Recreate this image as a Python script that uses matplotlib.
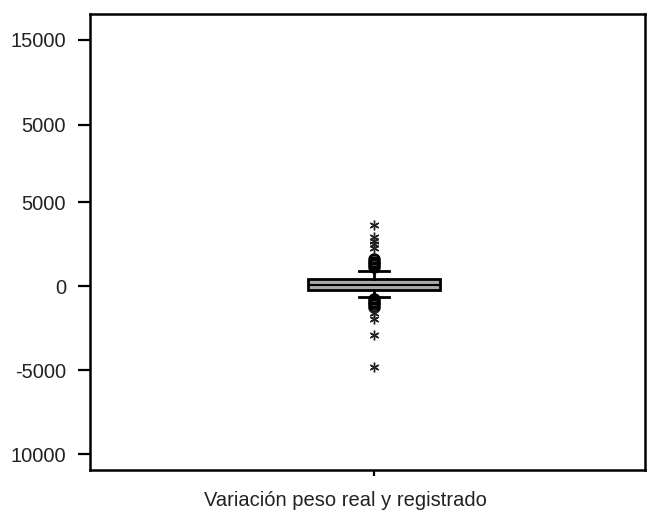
import matplotlib.pyplot as plt
import numpy as np

plt.rcParams['font.family'] = ['Liberation Sans', 'DejaVu Sans']

# estadísticos del boxplot
mediana = 60
q1 = -240
q3 = 420
bigote_inf = -650
bigote_sup = 890

# atípicos (círculos) y extremos (estrellas)
atipicos = np.array([1150, 1300, 1450, 1600, -800, -950, -1100, -1250])
extremos = np.array([3630, 2920, 2680, 2480, 2260, -1600, -1960, -2920, -4820])

tick_vals = [-10000, -5000, 0, 5000, 9600, 14650]
tick_labels = ['10000', '-5000', '0', '5000', '5000', '15000']

fig = plt.figure(figsize=(6.51, 5.14), dpi=100)
ax = fig.add_axes([0.138, 0.0856, 0.853, 0.8872])

stats = [{'med': mediana, 'q1': q1, 'q3': q3, 'whislo': bigote_inf,
          'whishi': bigote_sup, 'fliers': []}]
ax.bxp(stats, positions=[1], widths=0.238, patch_artist=True,
       showfliers=False, capwidths=0.055,
       boxprops=dict(facecolor='#a8a8a8', edgecolor='black', linewidth=2),
       medianprops=dict(color='black', linewidth=1.5),
       whiskerprops=dict(color='black', linewidth=2),
       capprops=dict(color='black', linewidth=2))

ax.plot(np.ones(len(atipicos)), atipicos, 'o', mfc='none', mec='black', ms=7, mew=2)
ax.plot(np.ones(len(extremos)), extremos, marker=(6, 2, 0), ls='none', color='#222222', ms=7, mew=1.0)

ax.set_xlim(0.488, 1.488)
ax.set_ylim(-10950, 16190)
ax.set_yticks(tick_vals)
ax.set_yticklabels(tick_labels)
ax.set_xticks([1])
ax.set_xticklabels([''])
ax.set_xlabel('Variación peso real y registrado', fontsize=14.5, color='#222222')
ax.xaxis.set_label_coords(0.461, -0.045)
ax.xaxis.label.set_va('top')
ax.tick_params(axis='y', length=9, width=1.6, labelsize=14.5, pad=8, labelcolor='#222222')
ax.tick_params(axis='x', length=4, width=1.6)
for s in ax.spines.values():
    s.set_linewidth(1.8)

fig.savefig('out.png', dpi=100)
